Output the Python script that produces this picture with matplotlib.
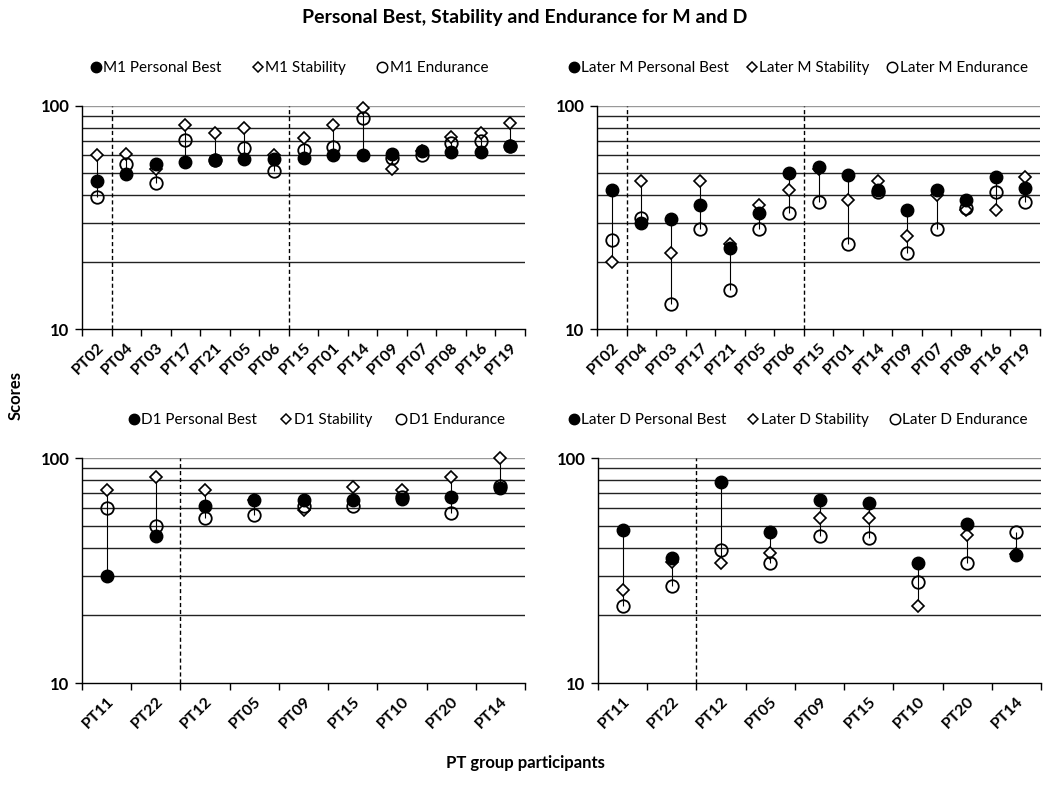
import matplotlib
matplotlib.use("Agg")
import matplotlib.pyplot as plt
from matplotlib.lines import Line2D
import numpy as np

plt.rcParams['font.family'] = ['Lato', 'DejaVu Sans']

# ---------------- data ----------------
m_labels = ["PT02", "PT04", "PT03", "PT17", "PT21", "PT05", "PT06", "PT15",
            "PT01", "PT14", "PT09", "PT07", "PT08", "PT16", "PT19"]
m1_pb = [46, 49.5, 55, 56, 57, 58, 58, 58.6, 60, 60, 61, 63, 62.4, 62.4, 66]
m1_stab = [60, 61, 52, 82, 75.5, 80, 60, 71.6, 82, 98, 52, 63, 72.3, 75.5, 83.6]
m1_end = [39, 54.8, 45, 70.3, 57, 64.5, 51, 63.4, 65.6, 88, 58.2, 60.2, 68, 70, 66]

lm_pb = [42, 30, 31, 36, 23, 33, 50, 53, 49, 42, 34, 42, 38, 48, 43]
lm_stab = [20, 46, 22, 46, 24, 36, 42, 52, 38, 46, 26, 40, 34, 34, 48]
lm_end = [25, 31.3, 13, 28, 15, 28, 33, 37, 24, 41, 22, 28, 35, 41, 37]

d_labels = ["PT11", "PT22", "PT12", "PT05", "PT09", "PT15", "PT10", "PT20", "PT14"]
d1_pb = [30, 45, 61.4, 65, 65.3, 65, 66, 67, 73.6]
d1_stab = [72, 82, 72, 65, 59, 74.3, 72, 82, 100]
d1_end = [60, 50, 54, 56, 61, 61, 67, 57, 75.3]

ld_pb = [48, 36, 78, 47, 65.3, 63, 34, 51, 37]
ld_stab = [26, 34.4, 34, 38, 54, 54, 22, 45.6, 37.5]
ld_end = [22, 27, 39, 34, 45, 44, 28, 34, 47]

m_groups = [0.5, 6.5]
d_groups = [1.5]

fig = plt.figure(figsize=(10.5, 7.9), dpi=100)
W, H = 1050, 790


def ax_rect(x0, y0, x1, y1):
    return [x0 / W, 1 - y1 / H, (x1 - x0) / W, (y1 - y0) / H]


def panel(rect, labels, pb, stab, end, groups, names, leg_x0, leg_x1, leg_y):
    ax = fig.add_axes(rect)
    n = len(labels)
    x = np.arange(n)
    ax.set_yscale('log')
    ax.set_ylim(10, 100)
    ax.set_xlim(-0.5, n - 0.5)
    # gridlines
    for v in range(20, 100, 10):
        ax.axhline(v, color='#222222', lw=1.0, zorder=1)
    ax.axhline(100, color='#999999', lw=1.0, zorder=1)
    for g in groups:
        ax.axvline(g, color='black', lw=1.0, ls=(0, (3, 2)), zorder=2)
    # high-low lines
    lo = np.minimum(np.minimum(pb, stab), end)
    hi = np.maximum(np.maximum(pb, stab), end)
    ax.vlines(x, lo, hi, color='black', lw=0.8, zorder=3)
    ax.plot(x, pb, 'o', ls='none', ms=9, mfc='black', mec='black', zorder=5, clip_on=False)
    ax.plot(x, stab, 'D', ls='none', ms=6.5, mfc='white', mec='black', mew=1.2, zorder=4, clip_on=False)
    ax.plot(x, end, 'o', ls='none', ms=9, mfc='none', mec='black', mew=1.3, zorder=4, clip_on=False)
    # axes styling
    for s in ['top', 'right']:
        ax.spines[s].set_visible(False)
    ax.spines['left'].set_linewidth(1.0)
    ax.spines['bottom'].set_linewidth(1.0)
    ax.set_yticks([10, 100])
    ax.set_yticklabels(['10', '100'], fontsize=12, fontweight='bold')
    ax.yaxis.set_minor_locator(matplotlib.ticker.NullLocator())
    ax.tick_params(axis='y', length=5, width=1, direction='out', pad=4)
    ax.set_xticks(x)
    ax.set_xticklabels(labels, rotation=45, ha='right', rotation_mode='anchor',
                       fontsize=11.5, fontweight='bold')
    ax.tick_params(axis='x', which='major', length=0, pad=8)
    ax.set_xticks(np.arange(-0.5, n, 1.0), minor=True)
    ax.tick_params(axis='x', which='minor', length=5, width=1, direction='out')
    handles = [Line2D([], [], marker='o', ls='none', ms=7.5, mfc='black', mec='black'),
               Line2D([], [], marker='D', ls='none', ms=5.5, mfc='white', mec='black', mew=1.1),
               Line2D([], [], marker='o', ls='none', ms=7.5, mfc='none', mec='black', mew=1.1)]
    fig.legend(handles, names, loc='center left', ncol=3, frameon=False, mode='expand',
               bbox_to_anchor=(leg_x0 / W, 1 - leg_y / H, (leg_x1 - leg_x0) / W, 0),
               fontsize=11, handlelength=0.5, handletextpad=0.25, columnspacing=0.3,
               borderaxespad=0, borderpad=0)
    return ax


panel(ax_rect(82, 106, 525, 329), m_labels, m1_pb, m1_stab, m1_end, m_groups,
      ["M1 Personal Best", "M1 Stability", "M1 Endurance"], 92, 488, 68)
panel(ax_rect(597, 106, 1040, 329), m_labels, lm_pb, lm_stab, lm_end, m_groups,
      ["Later M Personal Best", "Later M Stability", "Later M Endurance"], 570, 1028, 68)
panel(ax_rect(82, 458, 525, 683), d_labels, d1_pb, d1_stab, d1_end, d_groups,
      ["D1 Personal Best", "D1 Stability", "D1 Endurance"], 130, 505, 420)
panel(ax_rect(598, 458, 1041, 683), d_labels, ld_pb, ld_stab, ld_end, d_groups,
      ["Later D Personal Best", "Later D Stability", "Later D Endurance"], 570, 1028, 420)

fig.text(525 / W, 1 - 18 / H, "Personal Best, Stability and Endurance for M and D",
         ha='center', va='center', fontsize=14, fontweight='bold')
fig.text(16 / W, 1 - 395 / H, "Scores", rotation=90, ha='center', va='center',
         fontsize=12, fontweight='bold')
fig.text(525 / W, 1 - 763 / H, "PT group participants", ha='center', va='center',
         fontsize=12, fontweight='bold')

fig.savefig("out.png", dpi=100)
